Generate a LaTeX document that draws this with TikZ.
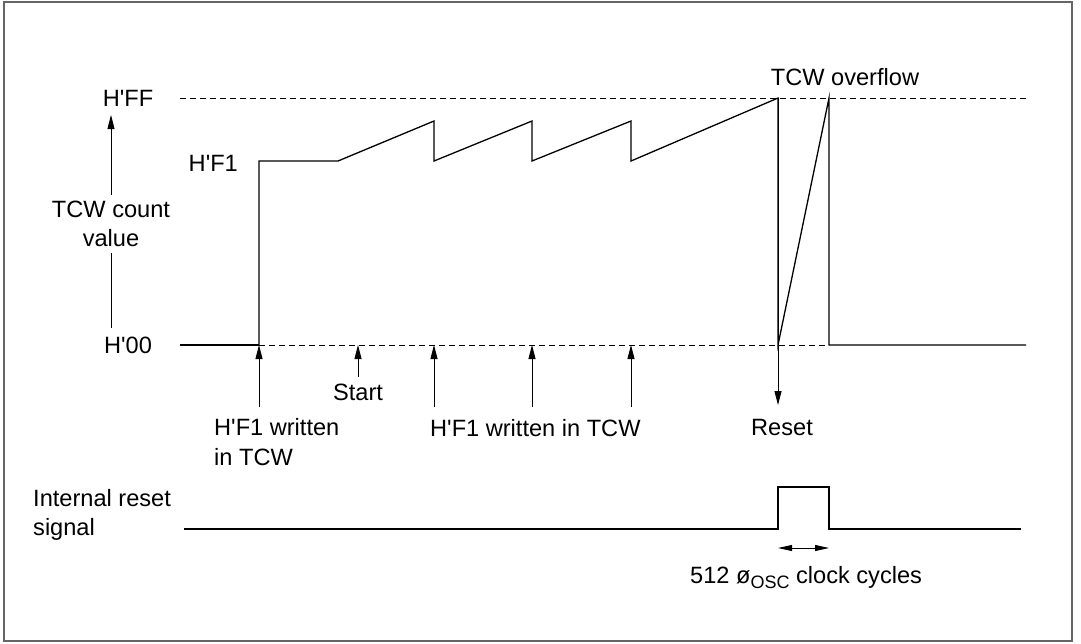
\documentclass[tikz,border=0pt]{standalone}
\usepackage{fontspec}
\setmainfont{Liberation Sans}
\usetikzlibrary{arrows.meta}
\newcommand{\qsg}{\textquotesingle}
\begin{document}
\begin{tikzpicture}[x=1pt,y=-1pt,
  lbl/.style={font=\fontsize{23.6}{29.5}\selectfont, inner sep=0pt},
  wave/.style={line width=1.3pt, line join=miter},
  guide/.style={line width=0.9pt, dash pattern=on 6pt off 4pt},
  uparrow/.style={line width=0.9pt, -{Triangle[length=14pt,width=7pt]}},
  dbl/.style={line width=0.9pt, {Triangle[length=14pt,width=6pt]}-{Triangle[length=14pt,width=6pt]}},
  frame/.style={draw=black!60, line width=1.2pt}]
\useasboundingbox (0,0) rectangle (1081,643);
\draw[frame] (4,2) rectangle (1072,641);

% level labels
\node[lbl, anchor=base] (hff) at (128,106) {H\qsg FF};
\node[lbl, anchor=base] (h00) at (128,353) {H\qsg 00};
\node[lbl, anchor=base east] (hf1) at (238,171) {H\qsg F1};
\node[lbl, align=center, inner sep=6pt] (cv) at (111,224) {TCW count\\value};
\coordinate (axtop) at (111,115);
\coordinate (axbot) at (111,328);
\draw[uparrow] (cv.north) -- (axtop);
\draw[line width=0.9pt] (cv.south) -- (axbot);

% guide lines
\coordinate (ffL) at (180,98);
\coordinate (ffR) at (1026,98);
\coordinate (zL) at (180,345);
\coordinate (w1) at (259,345);
\coordinate (r0) at (778,345);
\coordinate (r1) at (829,345);
\coordinate (zR) at (1026,345);
\draw[guide] (ffL) -- (ffR);
\draw[guide] (w1) -- (r1);
\draw[wave] (zL) -- (w1);

% count waveform
\draw[wave] (w1) -- (259,161) -- (338,161) -- (434,121) -- (434,161)
  -- (532,121) -- (532,161) -- (631,121) -- (631,161) -- (778,98)
  -- (r0) -- (829,98) -- (r1) -- (zR);

% overflow / reset
\node[lbl, anchor=base] (ovf) at (845,85) {TCW overflow};
\coordinate (rtop) at (778,98);
\coordinate (rtip) at (778,405);
\draw[uparrow] (rtop) -- (rtip);
\node[lbl, anchor=base] (rst) at (782,435) {Reset};

% write arrows
\coordinate (a1b) at (259,407); \coordinate (a1t) at (259,345);
\coordinate (a2b) at (358,377); \coordinate (a2t) at (358,345);
\coordinate (a3b) at (434,407); \coordinate (a3t) at (434,345);
\coordinate (a4b) at (532,407); \coordinate (a4t) at (532,345);
\coordinate (a5b) at (631,407); \coordinate (a5t) at (631,345);
\draw[uparrow] (a1b) -- (a1t);
\draw[uparrow] (a2b) -- (a2t);
\draw[uparrow] (a3b) -- (a3t);
\draw[uparrow] (a4b) -- (a4t);
\draw[uparrow] (a5b) -- (a5t);
\node[lbl, anchor=base] (start) at (358,400) {Start};
\node[lbl, align=left, anchor=west] (w1t) at (214,442) {H\qsg F1 written\\in TCW};
\node[lbl, anchor=base west] (w2t) at (430,436) {H\qsg F1 written in TCW};

% internal reset signal
\node[lbl, align=left, anchor=west] (irs) at (33,515) {Internal reset\\signal};
\coordinate (sL) at (184,529);
\coordinate (sR) at (1021,529);
\draw[wave] (sL) -- (778,529) -- (778,487) -- (829,487) -- (829,529) -- (sR);
\coordinate (dL) at (778,548);
\coordinate (dR) at (829,548);
\draw[dbl] (dL) -- (dR);
\node[lbl, anchor=base west] (clk) at (690,583) {512 ø\raisebox{-5pt}{\fontsize{18}{18}\selectfont OSC} clock cycles};
\end{tikzpicture}
\end{document}
